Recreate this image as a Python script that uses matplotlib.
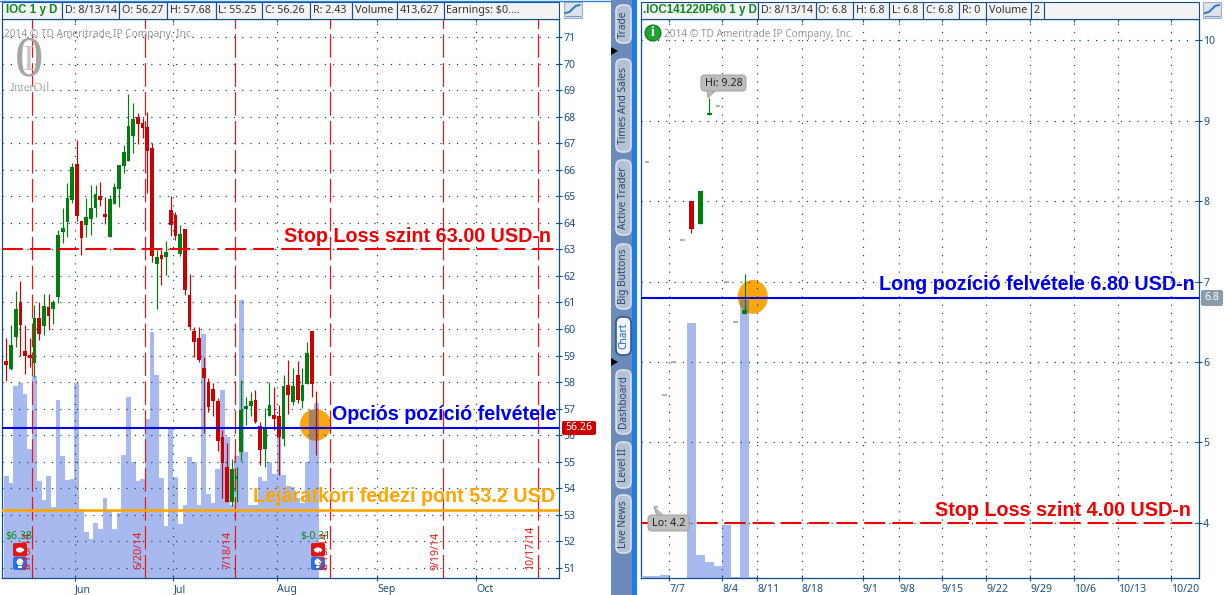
import matplotlib
matplotlib.use("Agg")
import matplotlib.pyplot as plt
from matplotlib.patches import Ellipse, FancyBboxPatch, Rectangle, Circle, Polygon

W, H = 1224, 595

# left chart: IOC daily
ioc_open = [58.80, 58.50, 59.70, 61.02, 59.17, 59.02, 58.72, 60.42, 60.12, 60.83, 60.76, 61.21, 63.66, 64.03, 64.86, 66.22, 64.07,
            63.92, 64.15, 64.56, 65.01, 64.33, 63.47, 64.71, 65.28, 66.14, 66.33, 67.27, 67.99, 67.76, 67.61, 66.82, 62.45, 62.79,
            62.71, 64.48, 64.30, 62.83, 63.77, 61.28, 59.93, 59.66, 58.53, 58.01, 57.74, 57.29, 55.93, 54.80, 53.49, 54.35, 55.37,
            56.99, 57.10, 57.33, 56.35, 55.48, 56.73, 56.76, 56.73, 55.86, 57.89, 57.25, 58.27, 57.29, 57.93, 59.93, 56.27]
ioc_high = [59.66, 60.15, 61.43, 61.81, 60.15, 59.66, 60.91, 61.02, 61.32, 61.32, 61.09, 63.73, 64.56, 65.50, 66.25, 67.12, 64.07,
            64.94, 65.43, 65.43, 65.54, 64.97, 65.05, 65.50, 66.18, 66.93, 68.85, 68.51, 68.14, 67.95, 68.18, 67.01, 62.98, 62.98,
            63.32, 65.01, 64.41, 63.92, 63.77, 62.07, 60.08, 60.08, 58.95, 58.16, 57.97, 57.40, 56.20, 55.71, 55.11, 54.80, 58.08,
            57.44, 57.63, 57.70, 56.50, 57.03, 58.01, 57.82, 57.14, 58.27, 58.83, 58.53, 58.80, 58.53, 59.51, 59.93, 57.68]
ioc_low = [58.04, 58.46, 59.32, 58.99, 58.31, 58.57, 58.19, 59.59, 59.78, 59.96, 60.19, 60.98, 63.24, 63.47, 64.75, 64.07, 62.79,
           63.47, 63.54, 64.22, 64.64, 63.96, 63.47, 64.71, 64.60, 65.88, 66.33, 66.63, 66.97, 67.20, 65.12, 62.53, 60.76, 61.66,
           62.04, 63.51, 63.35, 62.75, 61.28, 59.96, 58.95, 58.76, 56.09, 56.88, 56.73, 55.41, 53.64, 53.49, 53.34, 53.49, 55.03,
           56.39, 56.73, 56.46, 54.88, 54.80, 56.73, 56.20, 54.50, 55.60, 56.80, 57.14, 57.22, 57.03, 57.93, 57.44, 55.25]
ioc_close = [58.65, 59.40, 60.76, 60.15, 58.99, 58.91, 60.42, 59.81, 60.87, 60.49, 61.02, 63.54, 63.81, 64.94, 66.10, 64.26, 63.43,
             64.22, 64.56, 65.09, 64.86, 64.22, 64.90, 65.35, 66.18, 66.67, 67.65, 67.91, 67.72, 67.57, 66.71, 62.75, 62.71, 62.64,
             62.90, 63.92, 63.51, 63.58, 61.47, 60.08, 59.51, 58.83, 58.16, 57.06, 57.29, 55.78, 54.96, 53.49, 54.73, 54.47, 56.95,
             57.10, 57.29, 56.50, 55.44, 56.27, 57.14, 56.61, 55.93, 57.86, 57.52, 57.86, 57.33, 57.89, 59.10, 57.93, 56.26]
ioc_volume = [241, 225, 454, 461, 435, 305, 478, 229, 184, 241, 168, 421, 288, 232, 234, 461, 163, 109, 92, 130, 116, 189, 158, 116,
              154, 291, 428, 274, 229, 234, 376, 582, 480, 236, 123, 355, 239, 128, 173, 286, 274, 173, 577, 199, 177, 258, 444, 333,
              173, 288, 657, 298, 173, 173, 239, 229, 274, 246, 355, 243, 217, 215, 189, 177, 274, 397, 414]
ioc_prices = list(range(51, 72))
ioc_months = ["Jun", "Jul", "Aug", "Sep", "Oct"]
ioc_month_pos = [14.55, 35.55, 57.55, 78.9, 100.0]
expiry_dates = ["5/16/14", "6/20/14", "7/18/14", "8/15/14", "9/19/14", "10/17/14"]
expiry_pos = [5.57, 29.57, 48.7, 68.96, 92.9, 113.2]
ioc_stop, ioc_entry, ioc_breakeven = 63.0, 56.26, 53.2

# right chart: option daily, grey dash = no trade, only a mark
opt_open = [None, None, None, None, None, 8.00, 7.72, 9.07, None, None, None, 6.60, None]
opt_high = [None, None, None, None, None, 8.00, 8.13, 9.28, None, None, None, 7.10, None]
opt_low = [None, None, None, None, None, 7.61, 7.72, 9.07, None, None, None, 6.60, None]
opt_close = [None, None, None, None, None, 7.66, 8.13, 9.10, None, None, None, 6.65, None]
opt_mark = [8.49, 4.20, 5.59, 6.00, 7.52, None, None, None, 9.19, 7.00, 6.50, None, 6.80]
opt_volume = [2, 2, 3, 0, 0, 255, 23, 16, 12, 53, 1, 278, 1]
opt_prices = [4, 5, 6, 7, 8, 9, 10]
opt_dates = ["7/7", "8/4", "8/11", "8/18", "9/1", "9/8", "9/15", "9/22", "9/29", "10/6", "10/13", "10/20"]
opt_date_pos = [2.5, 8.5, 12.43, 17.44, 24.3, 28.4, 33.2, 38.2, 43.2, 48.1, 53.1, 59.1]
opt_stop, opt_entry = 4.0, 6.8

RED, GREEN = "#CC0000", "#007F0E"
VOL = "#A8B9EF"
AXC = "#0F4F8B"
TXT = "#1C4F80"
ORANGE = "#FAA70F"
BROWN = "#A48663"
SANS = ["Noto Sans", "DejaVu Sans"]
DOTS = (0, (1, 6))

plt.rcParams["font.family"] = SANS
fig = plt.figure(figsize=(W / 100, H / 100), dpi=100, facecolor="white")


def axes_px(l, t, r, b, **kw):
    return fig.add_axes([l / W, 1 - b / H, (r - l) / W, (b - t) / H], **kw)


def style_axes(ax, yticks, xticks, xlabels):
    ax.set_yticks(yticks)
    ax.set_xticks(xticks)
    ax.set_xticklabels(xlabels, ha="left")
    ax.yaxis.tick_right()
    ax.tick_params(axis="y", direction="inout", length=5, width=0.8, colors=AXC, labelcolor=TXT, labelsize=7.6, pad=0.5)
    ax.tick_params(axis="x", direction="inout", length=5, width=0.8, colors=AXC, labelcolor=TXT, labelsize=7.6, pad=2, top=True)
    ax.grid(True, color="#103A5E", linewidth=0.85, linestyle=DOTS)
    ax.set_axisbelow(False)
    for s in ax.spines.values():
        s.set_color(AXC)
        s.set_linewidth(0.9)


def draw_candles(ax, opens, highs, lows, closes, width):
    for i, o in enumerate(opens):
        if o is None:
            continue
        c = closes[i]
        color = GREEN if c >= o else RED
        ax.vlines(i, lows[i], highs[i], color=color, linewidth=0.85, zorder=5)
        ax.bar(i, max(abs(c - o), 0.03), bottom=min(o, c), width=width, color=color, zorder=5)


def marker_circle(ax, ax_vol, x, y, w, h, volume, idx):
    circle = Ellipse((x, y), w, h, facecolor=ORANGE, edgecolor="none", transform=ax.transData, zorder=3)
    ax_vol.add_patch(circle)
    bars = ax_vol.bar(idx, [volume[i] for i in idx], width=1.0, color=BROWN, zorder=4)
    for b in bars:
        b.set_clip_path(circle)


# left chart
vol_l = axes_px(2, 19, 559, 578, zorder=1)
vol_l.bar(range(len(ioc_volume)), ioc_volume, width=1.0, color=VOL, linewidth=0, antialiased=False)
ax_l = axes_px(2, 19, 559, 578, zorder=2)
ax_l.patch.set_visible(False)
style_axes(ax_l, ioc_prices, ioc_month_pos, ioc_months)
marker_circle(ax_l, vol_l, 65.8, 56.39, 6.6, 1.2, ioc_volume, [65, 66])
draw_candles(ax_l, ioc_open, ioc_high, ioc_low, ioc_close, 0.8)
for p in expiry_pos:
    ax_l.axvline(p, color="#EE1111", linewidth=0.85, linestyle=(0, (20, 4.5)), zorder=4)
ax_l.plot([-0.9, 116.5], [ioc_stop, ioc_stop], color="#F00000", linewidth=1.5, linestyle=(0, (10, 3.4)), zorder=6)
ax_l.axhline(ioc_entry, color="#0000F0", linewidth=1.5, zorder=6)
ax_l.axhline(ioc_breakeven, color="#FFA500", linewidth=1.9, zorder=6)
ax_l.set_xlim(-0.915, 117.6)
ax_l.set_ylim(50.62, 71.68)
vol_l.set_xlim(-0.915, 117.6)
vol_l.set_ylim(0, 1321)
vol_l.set_xticks([])
vol_l.set_yticks([])
for s in vol_l.spines.values():
    s.set_visible(False)

# right chart
vol_r = axes_px(641, 19, 1199, 578, zorder=1)
vol_r.bar(range(len(opt_volume)), opt_volume, width=1.0, color=VOL, linewidth=0, antialiased=False)
ax_r = axes_px(641, 19, 1199, 578, zorder=2)
ax_r.patch.set_visible(False)
style_axes(ax_r, opt_prices, opt_date_pos, opt_dates)
marker_circle(ax_r, vol_r, 11.92, 6.81, 3.4, 0.42, opt_volume, [11])
draw_candles(ax_r, opt_open, opt_high, opt_low, opt_close, 0.58)
for i, m in enumerate(opt_mark):
    if m is not None:
        ax_r.plot([i - 0.26, i + 0.26], [m, m], color="#98A4B2", linewidth=1.2, solid_capstyle="butt", zorder=5)
ax_r.plot([-0.67, 61.5], [opt_stop, opt_stop], color="#F00000", linewidth=1.5, linestyle=(0, (10, 3.4)), zorder=6)
ax_r.axhline(opt_entry, color="#0000F0", linewidth=1.5, zorder=6)
ax_r.set_xlim(-0.676, 62.2)
ax_r.set_ylim(3.313, 10.267)
vol_r.set_xlim(-0.676, 62.2)
vol_r.set_ylim(0, 559)
vol_r.set_xticks([])
vol_r.set_yticks([])
for s in vol_r.spines.values():
    s.set_visible(False)

# overlay in pixel coordinates for the platform furniture and the hand drawn notes
ov = axes_px(0, 0, W, H, zorder=10)
ov.set_xlim(0, W)
ov.set_ylim(H, 0)
ov.axis("off")
ov.patch.set_visible(False)


def header(edges, labels):
    for k, lab in enumerate(labels):
        x0, x1 = edges[k], edges[k + 1]
        ov.add_patch(Rectangle((x0, 2), x1 - x0, 17, facecolor="#F3F3F3", edgecolor=AXC, linewidth=0.8))
        if k == 0:
            ov.text((x0 + x1) / 2, 10.5, lab, family="Liberation Sans", color="#0A8A1E", fontsize=8.3,
                    fontweight="bold", ha="center", va="center")
        else:
            ov.text(x0 + 3, 10.5, lab, color="#333333", fontsize=7.7, ha="left", va="center")


def chart_icon(x):
    ov.add_patch(Rectangle((x, 2), 18, 16, facecolor="#DDE3EA", edgecolor="#A5AEB8", linewidth=0.8))
    ov.plot([x + 2, x + 6, x + 9, x + 12, x + 16], [13, 12, 9, 6, 5], color="#2F78B7", linewidth=1.4)
    ov.plot([x + 2, x + 16], [15.5, 15.5], color="#6E9CC4", linewidth=0.8)


header([2, 62, 118.5, 167, 215.5, 262, 310, 352, 396.5, 443.5, 559],
       ["IOC 1 y D", "D: 8/13/14", "O: 56.27", "H: 57.68", "L: 55.25", "C: 56.26", "R: 2.43", "Volume", "413,627", "Earnings: $0...."])
header([641, 758, 815.5, 852.5, 888.5, 923, 959, 986, 1030.7, 1044, 1199],
       [".IOC141220P60 1 y D", "D: 8/13/14", "O: 6.8", "H: 6.8", "L: 6.8", "C: 6.8", "R: 0", "Volume", "2", ""])
chart_icon(563.5)
chart_icon(1203)
ov.plot([0, 610], [0.5, 0.5], color="#2F83E0", linewidth=1)

# side bar
ov.add_patch(Rectangle((611, 0), 21, H, facecolor="#6B8CBA", edgecolor="none"))
ov.add_patch(Rectangle((632, 0), 5, H, facecolor="#1D7BEA", edgecolor="none"))
side_buttons = [("Trade", 5, 43), ("Times And Sales", 59, 152), ("Active Trader", 160, 235), ("Big Buttons", 244, 309),
                ("Chart", 317, 355), ("Dashboard", 370, 434), ("Level II", 442, 488), ("Live News", 495, 553)]
for name, y0, y1 in side_buttons:
    active = name == "Chart"
    ov.add_patch(FancyBboxPatch((616, y0), 15, y1 - y0, boxstyle="round,pad=0,rounding_size=6",
                                facecolor="#F2F5FA" if active else "#B4C2D8", edgecolor="#2B4F80" if active else "#DCE3EE", linewidth=1.1))
    ov.text(623.5, (y0 + y1) / 2, name, rotation=90, ha="center", va="center", fontsize=7.3,
            color="#1560C8" if active else "#2A4468")
for y in (51, 362):
    ov.add_patch(Polygon([(611, y - 4), (611, y + 4), (618, y)], facecolor="black", edgecolor="none"))

# watermarks
ov.text(4, 35, "2014 © TD Ameritrade IP Company, Inc.", color="#8E8E8E", fontsize=7.3, ha="left", va="center", alpha=0.9)
ov.text(664, 35, "2014 © TD Ameritrade IP Company, Inc.", color="#8E8E8E", fontsize=7.3, ha="left", va="center", alpha=0.9)
ov.text(29, 61, "0", family="Liberation Serif", fontsize=41, color="#A5A5A5", ha="center", va="center")
ov.text(29, 61, "I", family="Liberation Serif", fontsize=26, color="#C8C8C8", ha="center", va="center")
ov.text(30, 88, "InterOil", family="Liberation Serif", fontsize=9, color="#A8A8A8", ha="center", va="center")
ov.add_patch(Circle((653, 33), 8, facecolor="#1FA32F", edgecolor="#0B7A1B", linewidth=0.8))
ov.text(653, 33, "i", family="Liberation Serif", fontsize=10, fontweight="bold", color="white", ha="center", va="center")

# expiry labels sit next to the dashed lines
for lab, y0, xc in zip(expiry_dates, [570, 569, 569, 570, 570, 570], [28, 138.5, 228, 325.5, 436, 531]):
    ov.text(xc, y0, lab, rotation=90, color="#EE1111", fontsize=7.6, ha="center", va="bottom")

# earnings flags
ov.text(5, 537, "$6.38", color="#0A8A1E", fontsize=7.6, ha="left", va="center")
ov.text(300, 537, "$-0.31", color="#0A8A1E", fontsize=7.6, ha="left", va="center")
for x in (13, 311):
    ov.add_patch(FancyBboxPatch((x, 543), 14, 13.5, boxstyle="round,pad=0,rounding_size=2", facecolor="#E01414", edgecolor="none"))
    ov.add_patch(Ellipse((x + 7, 550), 9, 6, facecolor="white", edgecolor="#E01414", linewidth=0.6))
    ov.add_patch(FancyBboxPatch((x, 557), 14, 13, boxstyle="round,pad=0,rounding_size=2", facecolor="#2A6FE4", edgecolor="none"))
    ov.add_patch(Circle((x + 7, 562), 3.4, facecolor="white", edgecolor="none"))
    ov.add_patch(Rectangle((x + 5, 566), 4, 2, facecolor="white", edgecolor="none"))

# price badges
ov.add_patch(FancyBboxPatch((562, 421), 34, 14, boxstyle="round,pad=0,rounding_size=2", facecolor=RED, edgecolor="none"))
ov.text(579, 428, "56.26", color="white", fontsize=7.6, ha="center", va="center")
ov.add_patch(FancyBboxPatch((1201, 290), 22, 16, boxstyle="round,pad=0,rounding_size=2", facecolor="#8B9BAC", edgecolor="none"))
ov.text(1212, 298, "6.8", color="white", fontsize=7.6, ha="center", va="center")

# hi and lo callouts
ov.add_patch(Polygon([(707, 90), (708, 98), (716, 90)], facecolor="#BDBDBD", edgecolor="#9A9A9A", linewidth=0.6))
ov.add_patch(FancyBboxPatch((701, 75), 45, 16, boxstyle="round,pad=0,rounding_size=4", facecolor="#BDBDBD", edgecolor="#A0A0A0", linewidth=0.7))
ov.text(723.5, 83, "Hi: 9.28", color="#222222", fontsize=7.8, ha="center", va="center")
ov.add_patch(Polygon([(654, 507), (657, 516), (664, 516)], facecolor="#BDBDBD", edgecolor="#9A9A9A", linewidth=0.6))
ov.add_patch(FancyBboxPatch((648, 515), 41, 16, boxstyle="round,pad=0,rounding_size=4", facecolor="#BDBDBD", edgecolor="#A0A0A0", linewidth=0.7))
ov.text(668.5, 523, "Lo: 4.2", color="#222222", fontsize=7.8, ha="center", va="center")

# notes written on the charts
notes = [("Stop Loss szint 63.00 USD-n", 284, 236, "#F00000"),
         ("Opciós pozíció felvétele", 332, 414, "#0000F0"),
         ("Lejáratkori fedezi pont 53.2 USD", 253, 497, "#FFA500"),
         ("Long pozíció felvétele 6.80 USD-n", 879, 284, "#0000F0"),
         ("Stop Loss szint 4.00 USD-n", 935, 511, "#F00000")]
for lab, x, y, col in notes:
    ov.text(x, y, lab, family="Liberation Sans", fontweight="bold", fontsize=14.2, color=col, ha="left", va="center")

fig.savefig("out.png", dpi=100)
plt.close(fig)
